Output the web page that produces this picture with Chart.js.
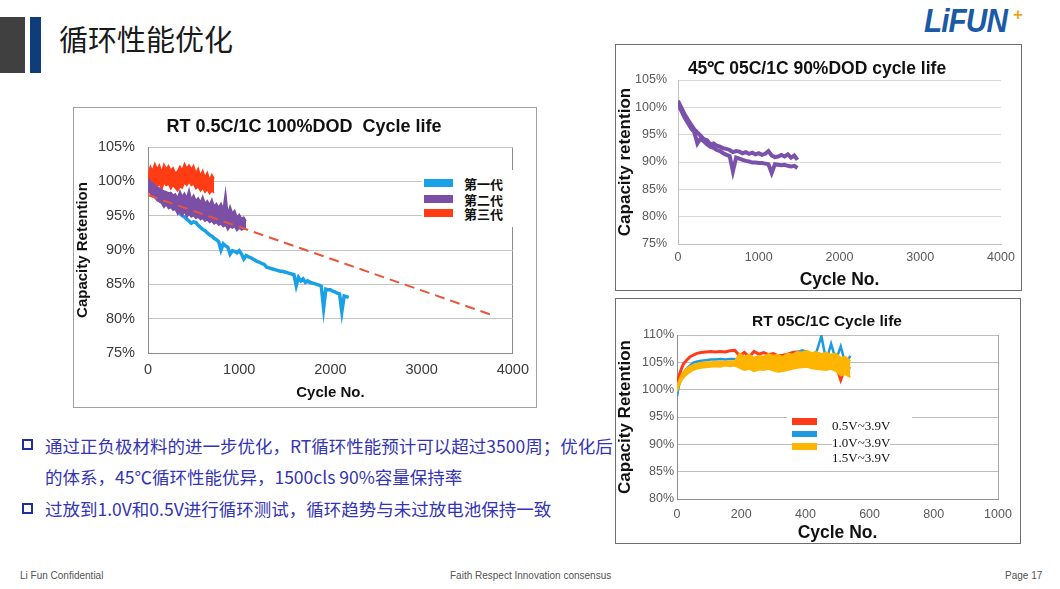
<!DOCTYPE html>
<html>
<head>
<meta charset="utf-8">
<script src="https://cdn.jsdelivr.net/npm/chart.js@4.4.1/dist/chart.umd.min.js"></script>
<style>
  body { margin: 0; width: 1060px; height: 589px; position: relative; overflow: hidden; background: #fff;
         font-family: "Liberation Sans", Arial, sans-serif; }
  .abs { position: absolute; }
  .c { position: absolute; white-space: pre; transform: translate(-50%, -50%); }
  .l { position: absolute; white-space: pre; transform: translateY(-50%); line-height: 1; }
  .box { position: absolute; box-sizing: border-box; background: #fff; }
  canvas { position: absolute; }
  .bullet { position: absolute; width: 11px; height: 11px; box-sizing: border-box; border: 2px solid #1f2e9e; background: #fff; }
  .btxt { position: absolute; white-space: pre; transform: translateY(-50%); color: #3434b4;
          font: 17.5px "Noto Sans CJK SC", sans-serif; }
  .foot { position: absolute; top: 575px; transform: translateY(-50%); color: #555; white-space: pre;
          font: 10px "Liberation Sans Narrow", "Liberation Sans", sans-serif; }
</style>
</head>
<body>

<!-- header -->
<div class="abs" style="left:0;top:17px;width:25px;height:56px;background:#404040"></div>
<div class="abs" style="left:30px;top:17px;width:11px;height:56px;background:#0e3d7a"></div>
<div class="abs" style="left:59px;top:17px;line-height:38px;font:29px 'Noto Sans CJK SC',sans-serif;color:#1a1a1a">循环性能优化</div>
<div class="abs" style="left:924px;top:2px;font:italic 900 33px 'Liberation Sans',sans-serif;color:#1b5aa6;letter-spacing:-1px;transform:scaleX(0.9);transform-origin:left top">LiFUN</div>
<div class="abs" style="left:1013px;top:5px;font:bold 17px 'Liberation Sans',sans-serif;color:#f0a81c">+</div>

<!-- chart boxes -->
<div class="box" style="left:73px;top:107px;width:464px;height:301px;border:1px solid #a0a0a0"></div>
<div class="box" style="left:615px;top:44px;width:407px;height:247px;border:1px solid #6e6e6e"></div>
<div class="box" style="left:615px;top:298px;width:406px;height:246px;border:1px solid #6e6e6e"></div>

<canvas id="c1" width="464" height="301" style="left:73px;top:107px"></canvas>
<canvas id="c2" width="407" height="247" style="left:615px;top:44px"></canvas>
<canvas id="c3" width="406" height="246" style="left:615px;top:298px"></canvas>

<div class="c" style="left:304px;top:126px;font:bold 18px 'Liberation Sans',sans-serif;color:#111">RT 0.5C/1C 100%DOD  Cycle life</div>
<div class="c" style="left:817px;top:67px;font:bold 17.5px 'Liberation Sans',sans-serif;color:#111">45℃ 05C/1C 90%DOD cycle life</div>
<div class="c" style="left:827px;top:321px;font:bold 15.5px 'Liberation Sans',sans-serif;color:#111">RT 05C/1C Cycle life</div>

<div id="leg1"></div>
<div id="leg3"></div>

<!-- bullets -->
<div class="bullet" style="left:22px;top:439px"></div>
<div class="btxt" style="left:45px;top:445px">通过正负极材料的进一步优化，RT循环性能预计可以超过3500周；优化后</div>
<div class="btxt" style="left:45px;top:476px">的体系，45℃循环性能优异，1500cls 90%容量保持率</div>
<div class="bullet" style="left:22px;top:503px"></div>
<div class="btxt" style="left:45px;top:508px">过放到1.0V和0.5V进行循环测试，循环趋势与未过放电池保持一致</div>

<!-- footer -->
<div class="foot" style="left:20px">Li Fun Confidential</div>
<div class="foot" style="left:450px">Faith Respect Innovation consensus</div>
<div class="foot" style="left:1005px">Page 17</div>

<script>
// ---- chart 1: RT 0.5C/1C 100%DOD ----
const cycles1 = [0,25,50,75,100,125,150,175,200,225,250,275,300,325,350,375,400,425,450,475,
  500,525,550,575,600,625,650,675,700,725,750,775,800,825,850,875,900,925,950,975,
  1000,1025,1050,1075,1100,1125,1150,1175,1200,1225,1250,1275,1300,1325,1350,1375,1400,1425,1450,1475,
  1500,1525,1550,1575,1600,1625,1650,1675,1700,1725,1750,1775,1800,1825,1850,1875,1900,1925,1950,1975,
  2000,2025,2050,2075,2100,2125,2150,2175,2200];
const gen1 = [100.0,99.2,98.6,98.2,97.8,97.4,97.2,96.6,96.9,96.7,
  96.4,96.2,96.0,95.7,95.3,95.0,94.8,94.5,94.2,93.9,
  94.1,94.0,93.6,93.3,93.0,92.8,92.5,92.2,92.0,91.7,
  91.5,91.2,90.0,90.9,90.6,90.4,89.4,89.9,89.8,89.6,
  89.9,89.4,88.7,89.2,89.0,88.9,88.7,88.5,88.3,88.2,
  88.0,87.9,87.5,87.4,87.3,87.2,87.1,87.0,86.9,86.9,
  86.8,86.7,86.6,86.5,86.4,84.8,86.0,85.5,85.8,85.3,
  85.5,85.3,85.2,85.1,85.0,84.9,84.7,81.5,84.3,84.2,
  84.2,84.0,83.9,83.7,83.6,81.0,83.3,83.2,83.1];
// 第二代 / 第三代: upper and lower edges of the scattered band of cells
const gen2High = [100.4,100.0,99.8,99.4,99.2,99.0,98.8,98.6,98.5,98.3,
  98.4,98.0,98.2,97.6,98.6,97.8,98.3,97.6,98.8,97.4,
  98.0,97.2,97.6,97.0,97.8,96.8,97.2,96.6,97.4,96.4,
  96.8,96.2,96.8,96.0,98.5,95.4,96.4,95.4,95.8,94.8,
  95.2,94.6,94.8,94.2];
const gen2Low = [99.0,98.2,97.8,97.6,97.2,97.0,96.8,96.2,96.6,96.0,
  96.2,95.8,96.0,95.2,95.6,95.0,95.6,94.8,95.2,94.8,
  95.0,94.6,94.8,94.4,94.6,94.2,94.4,94.0,94.2,93.8,
  94.0,93.6,93.8,93.4,93.6,92.9,93.4,93.2,93.4,92.8,
  93.2,92.9,93.1,93.0];
const gen3High = [100.8,102.2,101.6,102.6,101.8,102.4,101.4,102.5,101.8,102.3,
  101.6,102.0,101.2,101.5,102.2,101.6,102.6,101.9,102.4,101.8,
  102.3,101.2,101.9,100.8,101.6,100.6,101.3,100.2,101.0,100.4];
const gen3Low = [98.2,99.6,98.8,99.8,99.2,99.6,98.8,99.8,99.4,99.6,
  98.9,99.4,99.0,98.6,99.2,99.0,99.8,99.4,99.9,99.4,
  99.6,98.9,99.2,98.6,99.0,98.4,98.8,98.2,98.6,98.3];
const trendCycles = [0, 3800];
const trendValues = [98.0, 80.4];
const genLabels = ['第一代', '第二代', '第三代'];
const genColors = ['#1aa0e6', '#7b4fa6', '#ff3c14'];

// ---- chart 2: 45℃ 05C/1C 90%DOD ----
const cycles2 = [0,40,80,120,160,200,240,280,320,360,400,440,480,520,560,600,640,680,720,760,
  800,840,880,920,960,1000,1040,1080,1120,1160,1200,1240,1280,1320,1360,1400,1440,1480];
const cellA45 = [101.2,100.0,98.8,97.8,96.9,96.0,95.4,94.8,94.2,94.0,
  93.2,93.4,93.0,92.8,92.5,92.4,92.2,91.8,92.0,91.9,
  91.6,91.8,91.5,91.7,91.4,91.6,91.3,91.5,92.0,91.2,
  90.9,91.0,91.3,91.0,91.4,90.8,91.2,90.4];
const cellB45 = [100.6,99.4,98.2,97.2,96.2,95.5,93.4,94.3,93.8,93.2,
  92.8,92.6,92.2,92.0,91.6,91.3,91.1,88.3,90.8,90.6,
  90.4,90.2,90.1,89.9,89.9,89.8,89.8,89.7,89.6,88.0,
  89.6,89.5,89.4,89.5,89.3,89.2,89.3,88.9];

// ---- chart 3: RT 05C/1C over-discharge ----
const cycles3 = [0,5,10,15,20,30,40,50,60,75,90,105,120,135,150,165,180,195,210,225,
  240,255,270,285,300,315,330,345,360,375,390,405,420,435,450,465,480,495,510,525,540];
const v05 = [101.5,102.3,103.2,104.0,104.7,105.4,106.0,106.3,106.6,106.8,
  106.9,107.0,106.9,107.0,106.9,107.1,107.2,106.2,106.8,106.0,
  107.0,106.5,106.8,106.4,106.6,106.2,106.3,106.5,106.8,106.9,
  107.0,106.8,106.5,105.2,104.8,105.0,104.6,104.5,101.8,104.2,103.8];
const v10 = [98.8,100.5,101.6,102.4,103.0,103.8,104.4,104.9,105.1,105.3,
  105.4,105.5,105.5,105.6,105.5,105.6,105.6,105.0,105.2,105.6,
  105.0,105.4,105.2,105.5,104.8,105.2,105.6,105.8,106.4,106.8,
  107.2,106.9,106.2,107.0,109.8,105.2,108.4,105.4,107.9,104.6,106.2];
// 1.5V cells: upper and lower edges of the band
const v15High = [100.4,101.4,102.2,102.8,103.2,103.8,104.2,104.5,104.7,104.9,
  105.0,105.0,105.1,105.1,105.1,105.2,105.2,106.6,106.0,106.4,
  105.8,106.2,106.0,106.5,106.2,106.4,106.0,106.6,106.4,106.9,
  106.8,107.1,106.7,106.9,106.5,106.8,106.4,106.6,105.8,106.0,105.2];
const v15Low = [99.6,100.6,101.2,101.8,102.2,102.8,103.2,103.6,103.8,104.0,
  104.1,104.2,104.3,104.2,104.4,104.3,104.4,104.0,103.6,103.8,
  103.4,103.7,103.6,103.8,103.5,103.3,103.4,103.6,103.8,104.0,
  104.1,104.2,103.9,103.8,103.7,103.6,103.8,103.4,102.6,102.8,102.3];
const voltLabels = ['0.5V~3.9V', '1.0V~3.9V', '1.5V~3.9V'];
const voltColors = ['#ff3b1a', '#1e9be0', '#ffb400'];

const FONT = '"Liberation Sans", Arial, sans-serif';

function pts(xs, ys) { return ys.map((y, i) => ({ x: xs[i], y: y })); }

function line(label, xs, ys, color, width, order, extra) {
  return Object.assign({
    label: label, data: pts(xs, ys), borderColor: color, backgroundColor: color,
    borderWidth: width, pointRadius: 0, tension: 0, fill: false, order: order
  }, extra || {});
}

function build(id, datasets, o) {
  return new Chart(document.getElementById(id), {
    type: 'line',
    data: { datasets: datasets },
    options: {
      responsive: false, animation: false, events: [],
      layout: { padding: { top: o.padTop, right: o.padRight, left: 0, bottom: 0 } },
      plugins: { legend: { display: false }, tooltip: { enabled: false } },
      scales: {
        x: {
          type: 'linear', min: 0, max: o.xMax,
          ticks: { stepSize: o.xStep, padding: o.xTickPad, color: o.tickColor, maxRotation: 0,
                   font: { family: FONT, size: o.tickSize }, callback: v => String(v) },
          grid: { drawTicks: false,
                  color: ctx => (o.rightBorder && ctx.tick && ctx.tick.value === o.xMax) ? o.rightBorder : 'rgba(0,0,0,0)' },
          border: { color: o.axisColor },
          title: { display: true, text: 'Cycle No.', color: '#111',
                   font: { family: FONT, size: o.xTitleSize, weight: 'bold' },
                   padding: { top: 0, bottom: o.xTitlePad } },
          afterFit: s => { s.height = o.xHeight; }
        },
        y: {
          min: o.yMin, max: o.yMax,
          ticks: { stepSize: 5, padding: o.yTickPad, color: o.tickColor,
                   font: { family: FONT, size: o.tickSize }, callback: v => v + '%' },
          grid: { drawTicks: false, color: o.gridColor },
          border: { color: o.axisColor },
          title: { display: true, text: o.yTitle, color: '#111',
                   font: { family: FONT, size: o.yTitleSize, weight: 'bold' },
                   padding: { top: o.yTitlePad, bottom: 0 } },
          afterFit: s => { s.width = o.yWidth; }
        }
      }
    }
  });
}

build('c1', [
  line('trend', trendCycles, trendValues, '#e8553a', 2, 0, { borderDash: [10, 6] }),
  line(genLabels[1], cycles1, gen2High, genColors[1], 1.5, 1, { fill: '+1' }),
  line(genLabels[1], cycles1, gen2Low, genColors[1], 1.5, 2),
  line(genLabels[2], cycles1, gen3High, genColors[2], 1.5, 3, { fill: '+1' }),
  line(genLabels[2], cycles1, gen3Low, genColors[2], 1.5, 4),
  line(genLabels[0], cycles1, gen1, genColors[0], 3.5, 5)
], { padTop: 40, padRight: 24, xMax: 4000, xStep: 1000, xTickPad: 8, tickColor: '#3a3a3a', tickSize: 14.5,
     rightBorder: '#8c8c8c', axisColor: '#8c8c8c', xTitleSize: 15, xTitlePad: 6.5, xHeight: 55,
     yMin: 75, yMax: 105, yTickPad: 13, gridColor: '#c4c4c4', yTitle: 'Capacity Retention',
     yTitleSize: 15, yTitlePad: 1.3, yWidth: 75 });

build('c2', [
  line('cell A', cycles2, cellA45, '#7b52ab', 4, 0),
  line('cell B', cycles2, cellB45, '#7b52ab', 4, 1)
], { padTop: 36, padRight: 21, xMax: 4000, xStep: 1000, xTickPad: 6.5, tickColor: '#595959', tickSize: 12.5,
     rightBorder: null, axisColor: '#bfbfbf', xTitleSize: 17.5, xTitlePad: 0.5, xHeight: 47,
     yMin: 75, yMax: 105, yTickPad: 11, gridColor: '#d9d9d9', yTitle: 'Capacity retention',
     yTitleSize: 17, yTitlePad: 0.5, yWidth: 63 });

build('c3', [
  line(voltLabels[2], cycles3, v15High, voltColors[2], 2, 0, { fill: '+1' }),
  line(voltLabels[2], cycles3, v15Low, voltColors[2], 2, 1),
  line(voltLabels[1], cycles3, v10, voltColors[1], 2.5, 2),
  line(voltLabels[0], cycles3, v05, voltColors[0], 3, 3)
], { padTop: 37, padRight: 23, xMax: 1000, xStep: 200, xTickPad: 8, tickColor: '#595959', tickSize: 12.5,
     rightBorder: '#a6a6a6', axisColor: '#8c8c8c', xTitleSize: 17.5, xTitlePad: 0.5, xHeight: 45,
     yMin: 80, yMax: 110, yTickPad: 3, gridColor: '#bdbdbd', yTitle: 'Capacity Retention',
     yTitleSize: 17, yTitlePad: 0, yWidth: 62 });

// legends, built from the label/colour arrays
function legend(el, bg, items) {
  let h = '<div class="abs" style="left:' + bg[0] + 'px;top:' + bg[1] + 'px;width:' + bg[2] + 'px;height:' + bg[3] + 'px;background:#fff"></div>';
  items.forEach(it => {
    h += '<div class="abs" style="left:' + it.sx + 'px;top:' + (it.sy - it.sh / 2) + 'px;width:' + it.sw + 'px;height:' + it.sh + 'px;background:' + it.color + '"></div>';
    h += '<div class="l" style="left:' + it.tx + 'px;top:' + it.ty + 'px;font:' + it.font + ';line-height:1;color:#111;background:' + it.tbg + '">' + it.label + '</div>';
  });
  document.getElementById(el).innerHTML = h;
}
const leg1Y = [183, 198.7, 213.3];
legend('leg1', [422, 170, 98, 57], genLabels.map((t, i) => ({
  label: t, color: genColors[i], sx: 424, sy: leg1Y[i], sw: 29, sh: 8, tbg: 'transparent',
  tx: 464, ty: leg1Y[i], font: "bold 13px 'Noto Sans CJK SC',sans-serif" })));
const leg3Swatch = [421.7, 434.2, 446.3];
const leg3Text = [424.7, 441.5, 457];
legend('leg3', [787, 414, 125, 18], voltLabels.map((t, i) => ({
  label: t, color: voltColors[i], sx: 792, sy: leg3Swatch[i], sw: 25, sh: 6.5, tbg: '#fff',
  tx: 832, ty: leg3Text[i], font: "13px 'Liberation Serif',serif" })));
</script>
</body>
</html>
